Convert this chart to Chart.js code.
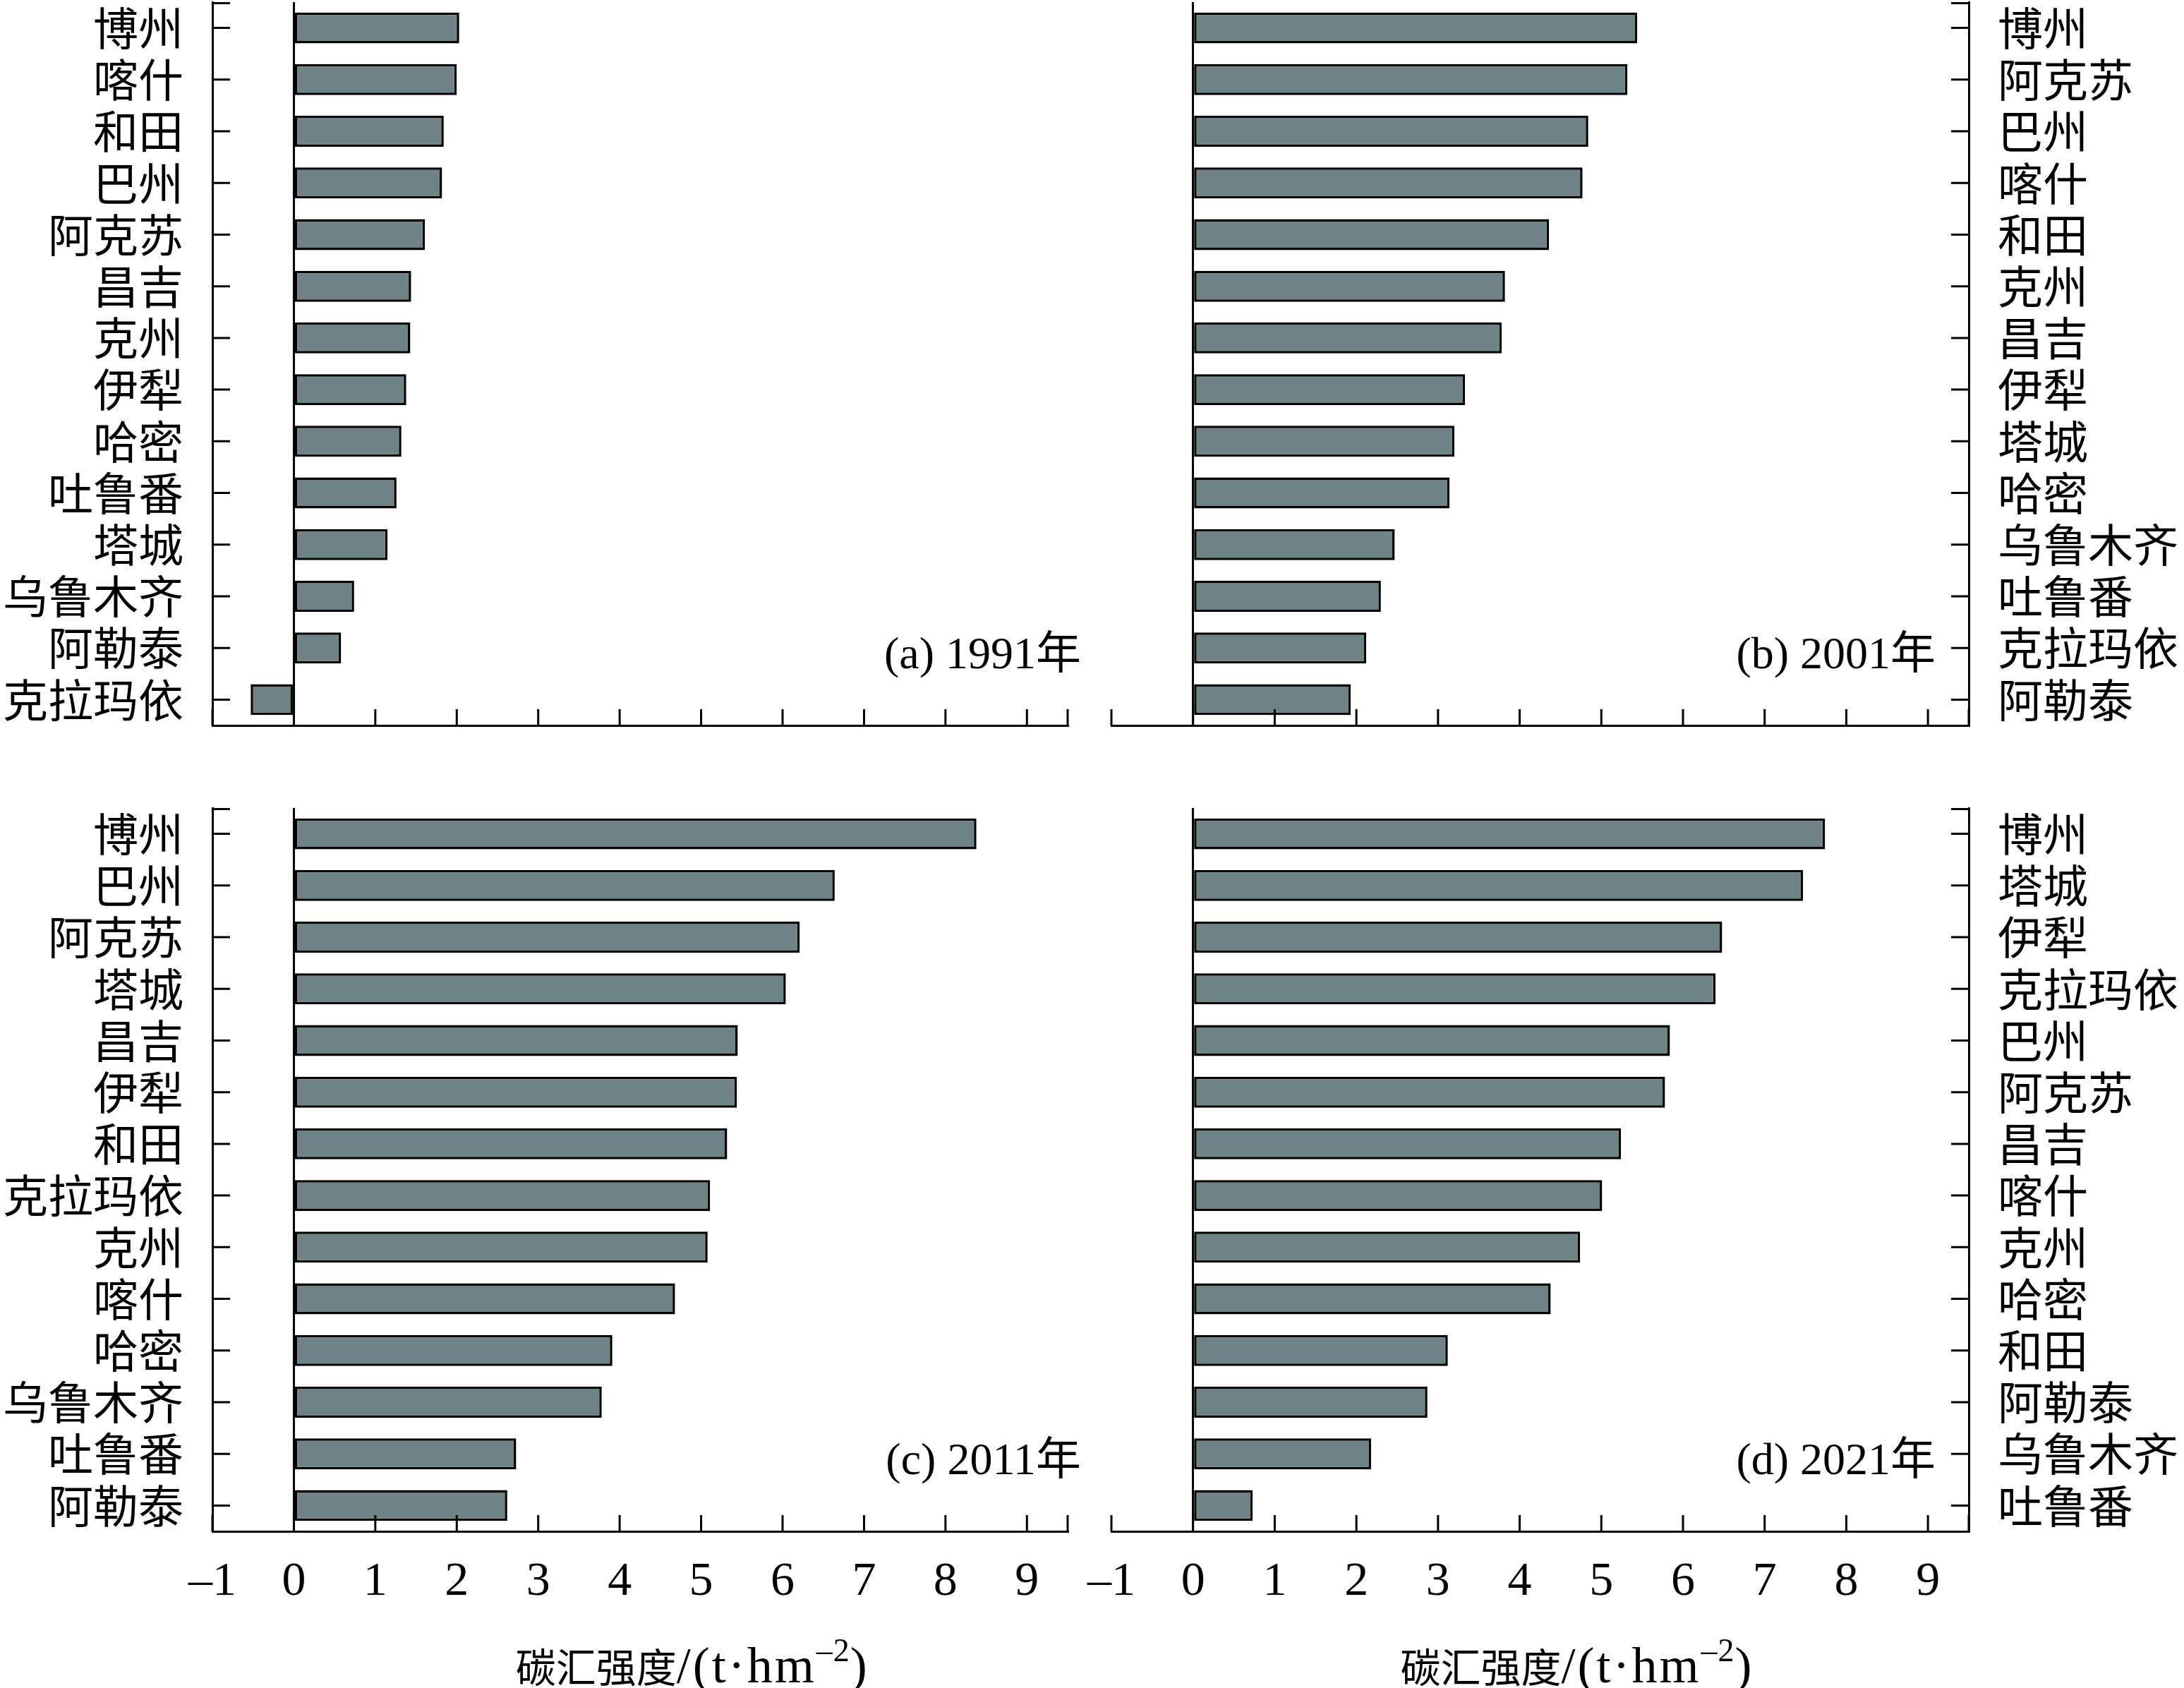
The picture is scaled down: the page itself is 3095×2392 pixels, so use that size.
<!DOCTYPE html>
<html>
<head>
<meta charset="utf-8">
<script src="https://cdn.jsdelivr.net/npm/chart.js@4.4.1/dist/chart.umd.min.js"></script>
<style>
  html, body { margin: 0; padding: 0; background: #fff; }
  #wrap { position: relative; width: 3095px; height: 2392px; }
  canvas { position: absolute; left: 0; top: 0; }
</style>
</head>
<body>
<div id="wrap">
  <canvas id="c1991" width="3095" height="2392"></canvas>
  <canvas id="c2001" width="3095" height="2392"></canvas>
  <canvas id="c2011" width="3095" height="2392"></canvas>
  <canvas id="c2021" width="3095" height="2392"></canvas>
</div>
<script>
// data (carbon sink intensity, t/hm2)
const labels1991 = ["博州", "喀什", "和田", "巴州", "阿克苏", "昌吉", "克州", "伊犁", "哈密", "吐鲁番", "塔城", "乌鲁木齐", "阿勒泰", "克拉玛依"];
const values1991 = [2.03, 2.00, 1.84, 1.82, 1.61, 1.44, 1.43, 1.38, 1.32, 1.26, 1.15, 0.74, 0.58, -0.53];

const labels2001 = ["博州", "阿克苏", "巴州", "喀什", "和田", "克州", "昌吉", "伊犁", "塔城", "哈密", "乌鲁木齐", "吐鲁番", "克拉玛依", "阿勒泰"];
const values2001 = [5.44, 5.32, 4.84, 4.77, 4.36, 3.82, 3.78, 3.33, 3.20, 3.14, 2.47, 2.30, 2.12, 1.93];

const labels2011 = ["博州", "巴州", "阿克苏", "塔城", "昌吉", "伊犁", "和田", "克拉玛依", "克州", "喀什", "哈密", "乌鲁木齐", "吐鲁番", "阿勒泰"];
const values2011 = [8.38, 6.64, 6.21, 6.04, 5.45, 5.44, 5.32, 5.11, 5.08, 4.68, 3.91, 3.78, 2.73, 2.62];

const labels2021 = ["博州", "塔城", "伊犁", "克拉玛依", "巴州", "阿克苏", "昌吉", "喀什", "克州", "哈密", "和田", "阿勒泰", "乌鲁木齐", "吐鲁番"];
const values2021 = [7.74, 7.47, 6.48, 6.40, 5.84, 5.78, 5.24, 5.01, 4.74, 4.38, 3.12, 2.87, 2.18, 0.73];

const xTickValues = [-1, 0, 1, 2, 3, 4, 5, 6, 7, 8, 9];
const xMin = -1;
const xMax = 9.5;

const W = 3095, H = 2392;
const CJK = "'Noto Sans CJK SC'";
const SERIF = "'Liberation Serif'";

const panels = [
  { id: "c1991", labels: labels1991, values: values1991, tag: "(a) 1991年", side: "left",  showX: false,
    area: { left: 301, right: 1513, top: 3, bottom: 1028 }, tagDx: 19 },
  { id: "c2001", labels: labels2001, values: values2001, tag: "(b) 2001年", side: "right", showX: false,
    area: { left: 1575, right: 2790, top: 3, bottom: 1028 }, tagDx: -47 },
  { id: "c2011", labels: labels2011, values: values2011, tag: "(c) 2011年", side: "left",  showX: true,
    area: { left: 301, right: 1513, top: 1145, bottom: 2170 }, tagDx: 19, titleAt: 4.88 },
  { id: "c2021", labels: labels2021, values: values2021, tag: "(d) 2021年", side: "right", showX: true,
    area: { left: 1575, right: 2790, top: 1145, bottom: 2170 }, tagDx: -47, titleAt: 4.69 }
];

// short tick marks pointing into the plot, plus panel tag and axis title
const decorations = {
  id: "decorations",
  afterDraw(chart, args, opts) {
    const { ctx, chartArea, scales: { x, y } } = chart;
    ctx.save();
    ctx.strokeStyle = "#000";
    ctx.lineWidth = 3;
    ctx.beginPath();
    x.ticks.forEach(t => {
      const px = x.getPixelForValue(t.value);
      ctx.moveTo(px, chartArea.bottom);
      ctx.lineTo(px, chartArea.bottom - 23);
    });
    const ax = opts.side === "left" ? chartArea.left : chartArea.right;
    const dir = opts.side === "left" ? 1 : -1;
    y.ticks.forEach((t, i) => {
      const py = y.getPixelForTick(i);
      ctx.moveTo(ax, py);
      ctx.lineTo(ax + dir * 25, py);
    });
    ctx.moveTo(ax, chartArea.top + 1.5);
    ctx.lineTo(ax + dir * 25, chartArea.top + 1.5);
    ctx.stroke();

    // panel tag, e.g. "(a) 1991年"
    ctx.fillStyle = "#000";
    ctx.font = `64px ${SERIF}, ${CJK}`;
    ctx.textAlign = "right";
    ctx.textBaseline = "alphabetic";
    ctx.fillText(opts.tag, chartArea.right + opts.tagDx, y.getPixelForValue(12) + 29);

    // axis title with superscript
    if (opts.titleAt !== undefined) {
      const parts = [
        { t: "碳汇强度", f: `57px ${CJK}`, dy: 0, ls: "0px" },
        { t: "/(t·hm", f: `72px ${SERIF}`, dy: 0, ls: "3px" },
        { t: "–2", f: `46px ${SERIF}`, dy: -30, ls: "1px" },
        { t: ")", f: `72px ${SERIF}`, dy: 0, ls: "0px" }
      ];
      ctx.textAlign = "left";
      let total = 0;
      parts.forEach(p => {
        ctx.font = p.f;
        ctx.letterSpacing = p.ls;
        p.w = ctx.measureText(p.t).width;
        total += p.w;
      });
      let cx = x.getPixelForValue(opts.titleAt) - total / 2;
      const base = 2384;
      parts.forEach(p => {
        ctx.font = p.f;
        ctx.letterSpacing = p.ls;
        ctx.fillText(p.t, cx, base + p.dy);
        cx += p.w;
      });
    }
    ctx.restore();
  }
};

panels.forEach(p => {
  const yWidth = p.side === "left" ? p.area.left : W - p.area.right;
  const xHeight = 100;
  new Chart(document.getElementById(p.id), {
    type: "bar",
    data: {
      labels: p.labels,
      datasets: [{
        data: p.values,
        backgroundColor: "#6e8387",
        borderColor: "#000",
        borderWidth: 3.5,
        borderSkipped: false,
        barPercentage: 0.6,
        categoryPercentage: 1.0
      }]
    },
    options: {
      indexAxis: "y",
      responsive: false,
      animation: false,
      devicePixelRatio: 1,
      events: [],
      layout: {
        autoPadding: false,
        padding: {
          left: p.side === "left" ? 0 : p.area.left,
          right: p.side === "left" ? W - p.area.right : 0,
          top: p.area.top,
          bottom: H - p.area.bottom - xHeight
        }
      },
      plugins: {
        legend: { display: false },
        tooltip: { enabled: false },
        decorations: { side: p.side, tag: p.tag, tagDx: p.tagDx, titleAt: p.titleAt }
      },
      scales: {
        x: {
          type: "linear",
          position: "bottom",
          min: xMin,
          max: xMax,
          afterBuildTicks: scale => {
            scale.ticks = xTickValues.concat([xMax]).map(v => ({ value: v }));
          },
          afterFit: scale => {
            scale.height = xHeight;
            scale.paddingLeft = 0;
            scale.paddingRight = 0;
          },
          grid: {
            drawTicks: false,
            lineWidth: 3,
            color: c => (c.tick && c.tick.value === 0 ? "#000" : "rgba(0,0,0,0)")
          },
          border: { display: true, color: "#000", width: 3 },
          ticks: {
            display: p.showX,
            padding: 31,
            color: "#000",
            font: { family: SERIF, size: 68 },
            callback: v => (Number.isInteger(v) ? (v < 0 ? "–" + Math.abs(v) : String(v)) : "")
          }
        },
        y: {
          position: p.side,
          afterFit: scale => {
            scale.width = yWidth;
            scale.paddingTop = 0;
            scale.paddingBottom = 0;
          },
          grid: { display: false, drawTicks: false },
          border: { display: true, color: "#000", width: 3 },
          ticks: {
            autoSkip: false,
            padding: 41,
            color: "#000",
            font: { family: CJK, size: 64 }
          }
        }
      }
    },
    plugins: [decorations]
  });
});
</script>
</body>
</html>
